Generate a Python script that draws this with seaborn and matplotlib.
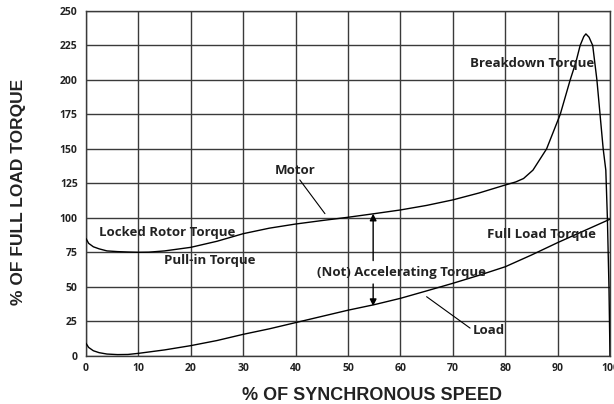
import matplotlib
matplotlib.use("Agg")
import matplotlib.pyplot as plt
import seaborn as sns
import pandas as pd

# ── Data ─────────────────────────────────────────────────────────────────────
motor_speed = [0, 0.5, 1.4, 2.5, 4, 6, 8, 10, 12, 15, 20, 25, 30, 35, 40, 45, 50,
               55, 60, 65, 70, 75, 80, 82, 83.5, 85.3, 87.9, 90.5, 92.4, 93.5,
               94.3, 95, 95.4, 96, 96.7, 97.5, 98.1, 98.7, 99.2, 99.5, 99.8, 100]
motor_torque = [85, 81.5, 79, 77.5, 76, 75.5, 75.2, 75, 75.1, 76, 78.6, 83, 88.5,
                92.5, 95.5, 98, 100.4, 103, 105.7, 109, 113, 118, 123.8, 126,
                128.5, 134.6, 150, 175, 200, 213, 225, 231.5, 233.4, 231, 225,
                200, 175, 150, 134.6, 100, 50, 0]

load_speed = [0, 0.5, 1.4, 2.5, 4, 6, 8, 10, 15, 20, 25, 30, 35, 40, 45, 50, 55,
              60, 65, 70, 75, 80, 85, 90, 95, 100]
load_torque = [9, 6, 3.6, 2.2, 1.2, 0.8, 0.9, 1.7, 4.2, 7.3, 11, 15.5, 19.5, 24,
               28.5, 33, 37, 41.6, 47, 52.5, 58.3, 64.5, 73, 82, 90.5, 99]

x_ticks = list(range(0, 101, 10))
y_ticks = list(range(0, 251, 25))

motor = pd.DataFrame({"speed": motor_speed, "torque": motor_torque})
load = pd.DataFrame({"speed": load_speed, "torque": load_torque})

# ── Style ────────────────────────────────────────────────────────────────────
sns.set_style("white")
grid_color = "#3a3a3a"
lbl_font = "Open Sans"

fig = plt.figure(figsize=(6.14, 4.04), dpi=100)
ax = fig.add_axes([86 / 614, 48.3 / 404, 524 / 614, 344.7 / 404])

sns.lineplot(data=motor, x="speed", y="torque", sort=False, color="black",
             linewidth=1.0, ax=ax, zorder=3)
sns.lineplot(data=load, x="speed", y="torque", sort=False, color="black",
             linewidth=1.0, ax=ax, zorder=3)

ax.set_xlim(0, 100)
ax.set_ylim(0, 250)
ax.set_xticks(x_ticks)
ax.set_yticks(y_ticks)
ax.grid(True, color=grid_color, linewidth=1.0)
ax.set_axisbelow(True)
for s in ax.spines.values():
    s.set_color(grid_color)
    s.set_linewidth(1.0)
ax.tick_params(length=0, labelsize=7.5, colors="#222222")
ax.tick_params(axis="x", pad=5)
ax.tick_params(axis="y", pad=6)
for t in ax.get_xticklabels() + ax.get_yticklabels():
    t.set_fontweight("bold")
    t.set_fontfamily(lbl_font)

ax.set_xlabel("")
ax.set_ylabel("")
fig.text(372 / 614, 1 - 395 / 404, "% OF SYNCHRONOUS SPEED", ha="center",
         va="center", fontsize=13, fontweight="bold", family="Liberation Sans",
         color="#222222")
fig.text(19 / 614, 1 - 192 / 404, "% OF FULL LOAD TORQUE", ha="center",
         va="center", rotation=90, fontsize=12.5, fontweight="bold",
         family="Liberation Sans", color="#222222")

# ── Annotations ──────────────────────────────────────────────────────────────
ann = dict(fontsize=9.5, fontweight="bold", family=lbl_font, color="#222222",
           ha="center", va="center", zorder=4)
ax.text(39.9, 134, "Motor", **ann)
ax.text(85.1, 212, "Breakdown Torque", **ann)
ax.text(15.4, 89, "Locked Rotor Torque", **ann)
ax.text(23.7, 68.7, "Pull-in Torque", **ann)
ax.text(87, 88, "Full Load Torque", **ann)
ax.text(60.3, 60.6, "(Not) Accelerating Torque", **ann)
ax.text(76.9, 18, "Load", **ann)

# leader lines
ax.plot([40.8, 45.6], [127.5, 103], color="black", linewidth=0.8)
ax.plot([65, 73.3], [42.8, 20], color="black", linewidth=0.8)

# accelerating-torque arrows
arrow = dict(arrowstyle="-|>", color="black", linewidth=1.0,
             mutation_scale=10, shrinkA=0, shrinkB=0)
ax.annotate("", xy=(54.8, 103), xytext=(54.8, 69), arrowprops=arrow)
ax.annotate("", xy=(54.8, 36), xytext=(54.8, 52), arrowprops=arrow)

fig.savefig("out.png", dpi=100)
